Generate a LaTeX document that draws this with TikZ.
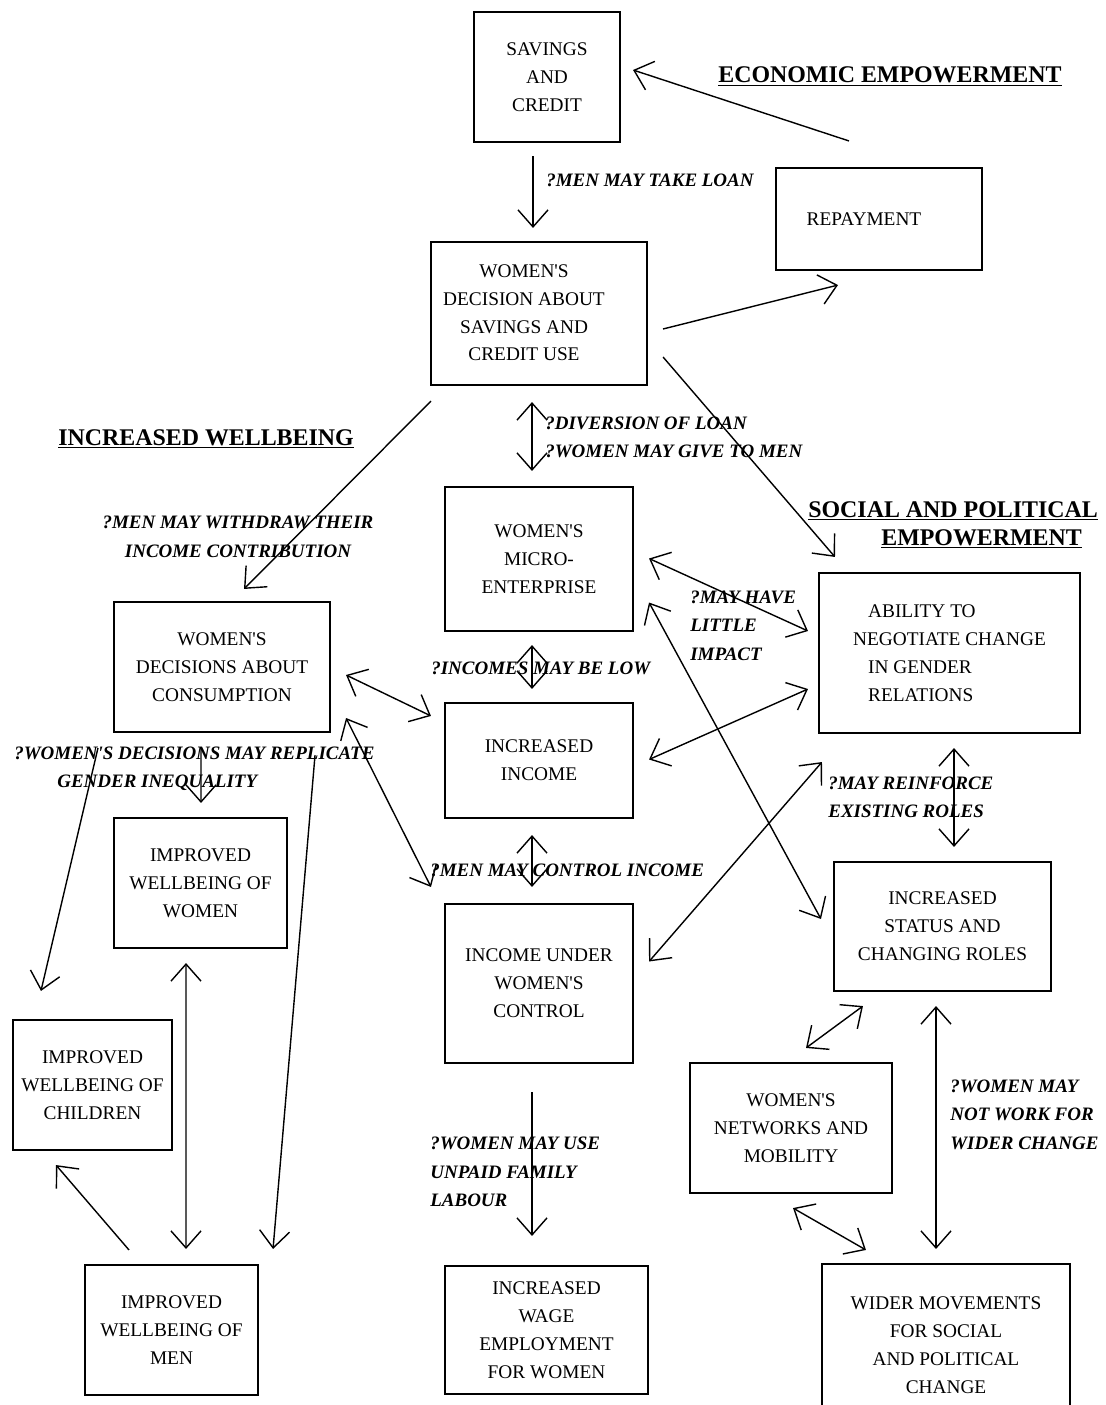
\documentclass[tikz,border=0pt]{standalone}
\usepackage{fontspec}
\setmainfont{Liberation Serif}
\usetikzlibrary{arrows.meta}
\newcommand{\ap}{\textquotesingle}

\begin{document}
\begin{tikzpicture}[x=0.02cm, y=-0.02cm,
    box/.style={draw, very thick, align=center, inner sep=2pt, font=\fontsize{11}{15.9}\selectfont},
    note/.style={anchor=west, align=left, inner sep=0pt, font=\fontsize{10.8}{16.2}\selectfont\bfseries\itshape},
    hd/.style={anchor=base west, inner sep=0pt, font=\fontsize{13.6}{16}\selectfont\bfseries},
    barb/.tip={Straight Barb[length=0.34cm,width=0.6cm]},
    one/.style={thick, -barb},
    two/.style={thick, barb-barb}]
    \useasboundingbox (0,0) rectangle (1105,1405);

    \node[box, minimum width=2.92cm, minimum height=2.6cm] (sav) at (547,77) {SAVINGS\\AND\\CREDIT};
    \node[box, minimum width=4.12cm, minimum height=2.04cm] (rep) at (879,219) {REPAYMENT\hspace*{0.6cm}};
    \node[box, minimum width=4.32cm, minimum height=2.86cm] (dec) at (539,313.5) {\begin{tabular}{@{}c@{}}WOMEN\ap S\\DECISION ABOUT\\SAVINGS AND\\CREDIT USE\end{tabular}\hspace*{0.6cm}};
    \node[box, minimum width=3.76cm, minimum height=2.88cm] (ent) at (539,559) {WOMEN\ap S\\MICRO-\\ENTERPRISE};
    \node[box, minimum width=5.22cm, minimum height=3.2cm, align=left] (abl) at (949.5,653) {\hspace*{0.3cm}ABILITY TO\\NEGOTIATE CHANGE\\\hspace*{0.3cm}IN GENDER\\\hspace*{0.3cm}RELATIONS};
    \node[box, minimum width=4.32cm, minimum height=2.6cm] (con) at (222,667) {WOMEN\ap S\\DECISIONS ABOUT\\CONSUMPTION};
    \node[box, minimum width=3.76cm, minimum height=2.3cm] (inc) at (539,760.5) {INCREASED\\INCOME};
    \node[box, minimum width=3.46cm, minimum height=2.6cm] (wom) at (200.5,883) {IMPROVED\\WELLBEING OF\\WOMEN};
    \node[box, minimum width=3.76cm, minimum height=3.18cm] (ctl) at (539,983.5) {INCOME UNDER\\WOMEN\ap S\\CONTROL};
    \node[box, minimum width=4.34cm, minimum height=2.58cm] (sta) at (942.5,926.5) {INCREASED\\STATUS AND\\CHANGING ROLES};
    \node[box, minimum width=3.18cm, minimum height=2.6cm] (chi) at (92.5,1085) {IMPROVED\\WELLBEING OF\\CHILDREN};
    \node[box, minimum width=3.46cm, minimum height=2.6cm] (men) at (171.5,1330) {IMPROVED\\WELLBEING OF\\MEN};
    \node[box, minimum width=4.06cm, minimum height=2.56cm] (wag) at (546.5,1330) {INCREASED\\WAGE\\EMPLOYMENT\\FOR WOMEN};
    \node[box, minimum width=4.04cm, minimum height=2.6cm] (net) at (791,1128) {WOMEN\ap S\\NETWORKS AND\\MOBILITY};
    \node[box, minimum width=4.96cm, minimum height=3.24cm] (wid) at (946,1345) {WIDER MOVEMENTS\\FOR SOCIAL\\AND POLITICAL\\CHANGE};

    \node[hd] (eco) at (718,83) {\underline{ECONOMIC EMPOWERMENT}};
    \node[hd] (wel) at (58,445) {\underline{INCREASED WELLBEING}};
    \node[hd] (soc) at (808,517) {\underline{SOCIAL AND POLITICAL}};
    \node[hd] (emp) at (881,545) {\underline{EMPOWERMENT}};

    \node[note] (n1) at (546,180) {?MEN MAY TAKE LOAN};
    \node[note] (n2) at (545,437.5) {?DIVERSION OF LOAN\\?WOMEN MAY GIVE TO MEN};
    \node[note, anchor=center, align=center] (n3) at (238,537) {?MEN MAY WITHDRAW THEIR\\INCOME CONTRIBUTION};
    \node[note] (n4) at (431,668) {?INCOMES MAY BE LOW};
    \node[note] (n5) at (690,625.5) {?MAY HAVE\\LITTLE\\IMPACT};
    \node[note] (n6) at (14,768.5) {?WOMEN\ap S DECISIONS MAY REPLICATE\\\hspace*{0.86cm}GENDER INEQUALITY};
    \node[note] (n7) at (430,870) {?MEN MAY CONTROL INCOME};
    \node[note] (n8) at (828,797.5) {?MAY REINFORCE\\EXISTING ROLES};
    \node[note] (n9) at (430,1172) {?WOMEN MAY USE\\UNPAID FAMILY\\LABOUR};
    \node[note] (n10) at (950,1114.5) {?WOMEN MAY\\NOT WORK FOR\\WIDER CHANGE};

    \draw[one] ([shift={(74,-26)}]rep.north west) -- ([shift={(12,-7)}]sav.east);
    \draw[one] ([shift={(-14,13)}]sav.south) -- ([shift={(-6,-13)}]dec.north);
    \draw[one] ([shift={(15,15.5)}]dec.east) -- ([shift={(-41,14)}]rep.south);
    \draw[one] ([shift={(15,43.5)}]dec.east) -- ([shift={(17,-15)}]abl.north west);
    \draw[one] ([shift={(1,15)}]dec.south west) -- ([shift={(22,-12)}]con.north);
    \draw[two] ([shift={(-7,16)}]dec.south) -- ([shift={(-7,-15)}]ent.north);
    \draw[two] ([shift={(-7,13)}]ent.south) -- ([shift={(-7,-13)}]inc.north);
    \draw[two] ([shift={(-7,16)}]inc.south) -- ([shift={(-7,-16)}]ctl.north);
    \draw[two] ([shift={(15,8)}]con.east) -- ([shift={(-13,14)}]inc.north west);
    \draw[two] ([shift={(15,51)}]con.east) -- ([shift={(-13,-16)}]ctl.north west);
    \draw[one] ([shift={(-21,14)}]con.south) -- ([shift={(0.5,-14)}]wom.north);
    \draw[one] ([shift={(-15,15)}]con.south west) -- ([shift={(29,-28)}]chi.north west);
    \draw[one] ([shift={(-16,22)}]con.south east) -- ([shift={(14,-15)}]men.north east);
    \draw[two] ([shift={(-14.5,14)}]wom.south) -- ([shift={(14.5,-15)}]men.north);
    \draw[one] ([shift={(-42.5,-14)}]men.north) -- ([shift={(-36.5,14)}]chi.south);
    \draw[one] ([shift={(-7,28)}]ctl.south) -- ([shift={(-14.5,-29)}]wag.north);
    \draw[two] ([shift={(15,-0.5)}]ent.east) -- ([shift={(-10,-22)}]abl.west);
    \draw[two] ([shift={(15,43.5)}]ent.east) -- ([shift={(-12,-7.5)}]sta.west);
    \draw[two] ([shift={(15,-1)}]inc.east) -- ([shift={(-10,36)}]abl.west);
    \draw[two] ([shift={(15,-22)}]ctl.east) -- ([shift={(4,28)}]abl.south west);
    \draw[two] ([shift={(4.5,14)}]abl.south) -- ([shift={(11.5,-14)}]sta.north);
    \draw[two] ([shift={(30,14)}]sta.south west) -- ([shift={(15,-14)}]net.north);
    \draw[two] ([shift={(-6.5,14)}]sta.south) -- ([shift={(-10,-14)}]wid.north);
    \draw[two] ([shift={(2,14)}]net.south) -- ([shift={(45,-13)}]wid.north west);
\end{tikzpicture}
\end{document}
